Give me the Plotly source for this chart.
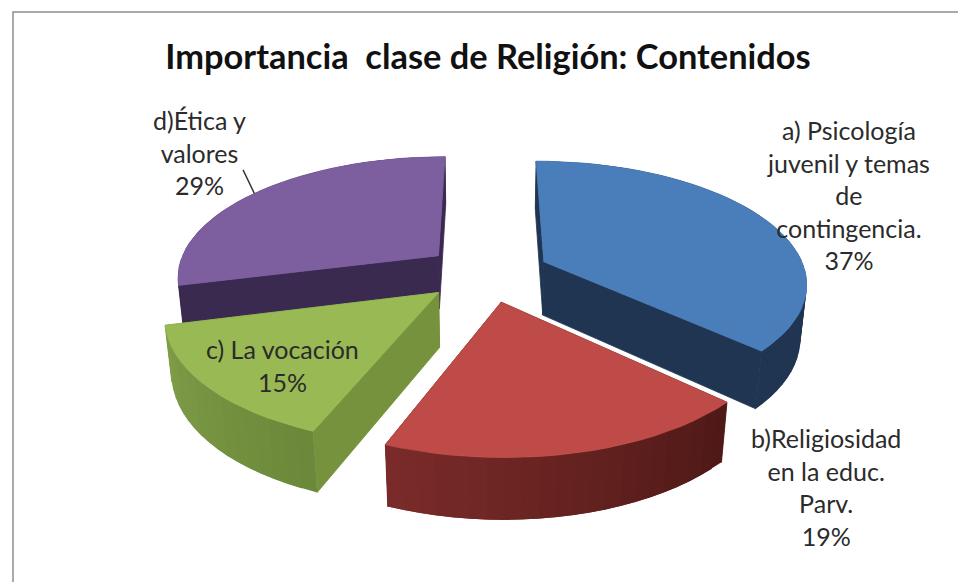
import numpy as np
import plotly.graph_objects as go

TITLE = "Importancia  clase de Religión: Contenidos"
categories = [
    "a) Psicología<br>juvenil y temas<br>de<br>contingencia.",
    "b)Religiosidad<br>en la educ.<br>Parv.",
    "c) La vocación",
    "d)Ética y<br>valores",
]
values = [37, 19, 15, 29]

top_colors = ["#4a7ebb", "#be4b48", "#98b954", "#7d5fa0"]
cut_colors = ["#1f3552", "#5a1d1b", "#76923c", "#3a2a50"]
wall_left = ["#1f3552", "#7a2b29", "#7f9e48", "#3a2a50"]
wall_right = ["#1f3552", "#4f1917", "#6c883a", "#3a2a50"]
draw_order = [3, 0, 2, 1]
label_pos = [(848, 195), (826, 487), (282, 365), (199, 152)]

FONT = "Lato"
CX, CY = 487, 273
RADIUS, Y_SCALE, DEPTH = 262, 120, 55
PERSPECTIVE, Z_PERSPECTIVE = 0.16, 0.02
EXPLODE = 0.24


def project(x, y, z=0.0):
    s = 1 / (1 + PERSPECTIVE * y + Z_PERSPECTIVE * z)
    return CX + RADIUS * x * s, CY + (DEPTH * z - Y_SCALE * y) * s


def mix(c1, c2, t):
    a = [int(c1[i:i + 2], 16) for i in (1, 3, 5)]
    b = [int(c2[i:i + 2], 16) for i in (1, 3, 5)]
    return "rgb({},{},{})".format(*[round(p + (q - p) * t) for p, q in zip(a, b)])


def polygon(fig, points, color, line_width=0.8):
    xs, ys = zip(*points)
    fig.add_trace(go.Scatter(
        x=list(xs) + [xs[0]], y=list(ys) + [ys[0]],
        mode="lines", fill="toself", fillcolor=color,
        line={"color": color, "width": line_width},
        hoverinfo="skip", showlegend=False,
    ))


def slice_geometry(i):
    start = sum(values[:i]) / sum(values) * 2 * np.pi
    end = start + values[i] / sum(values) * 2 * np.pi
    mid = (start + end) / 2
    ox, oy = EXPLODE * np.sin(mid), EXPLODE * np.cos(mid)
    thetas = np.linspace(start, end, max(int((end - start) * 20), 8))
    return ox, oy, thetas


def draw_slice(fig, i):
    ox, oy, thetas = slice_geometry(i)
    rim = [(ox + np.sin(t), oy + np.cos(t)) for t in thetas]
    for edge in (rim[0], rim[-1]):
        polygon(fig, [project(ox, oy), project(*edge), project(*edge, 1), project(ox, oy, 1)], cut_colors[i])
    # outer wall: each strip runs on over the next one so no seams show
    for j in range(len(rim) - 1):
        t = 1 - j / (len(rim) - 2)
        far = rim[min(j + 2, len(rim) - 1)]
        polygon(fig, [project(*rim[j]), project(*far), project(*far, 1), project(*rim[j], 1)],
                mix(wall_left[i], wall_right[i], t), line_width=0)
    polygon(fig, [project(ox, oy)] + [project(*p) for p in rim], top_colors[i])


fig = go.Figure()
for i in draw_order:
    draw_slice(fig, i)

annotations = []
for text, value, (x, y) in zip(categories, values, label_pos):
    annotations.append({
        "x": x, "y": y, "text": f"{text}<br>{value}%", "showarrow": False,
        "xref": "x", "yref": "y", "align": "center",
        "font": {"family": FONT, "size": 25, "color": "#2b2b2b"},
    })

# leader line from the d) label to the rim of its slice
ox, oy, thetas = slice_geometry(3)
tip_x, tip_y = project(ox + np.sin(np.radians(306.5)), oy + np.cos(np.radians(306.5)))
annotations.append({
    "x": tip_x, "y": tip_y, "ax": -12, "ay": -25, "text": "", "xref": "x", "yref": "y",
    "showarrow": True, "arrowhead": 0, "arrowwidth": 1.4, "arrowcolor": "#333333",
})

fig.update_layout(
    title={
        "text": TITLE, "x": 488 / 958, "xanchor": "center", "y": 1 - 57 / 582, "yanchor": "middle",
        "font": {"family": FONT, "size": 34.4, "color": "#111111", "weight": "bold"},
    },
    width=958, height=582,
    margin={"l": 0, "r": 0, "t": 0, "b": 0},
    paper_bgcolor="white", plot_bgcolor="white",
    xaxis={"range": [0, 958], "visible": False, "fixedrange": True},
    yaxis={"range": [582, 0], "visible": False, "fixedrange": True},
    showlegend=False,
    annotations=annotations,
    shapes=[{
        "type": "rect", "xref": "x", "yref": "y", "x0": 13, "y0": 12, "x1": 990, "y1": 620,
        "line": {"color": "#8f8f8f", "width": 1.5}, "layer": "below",
    }],
)

# the page's default body margin would push the chart 8px off
fig.write_html("out.html", config={"displayModeBar": False}, post_script="document.body.style.margin = '0';")
